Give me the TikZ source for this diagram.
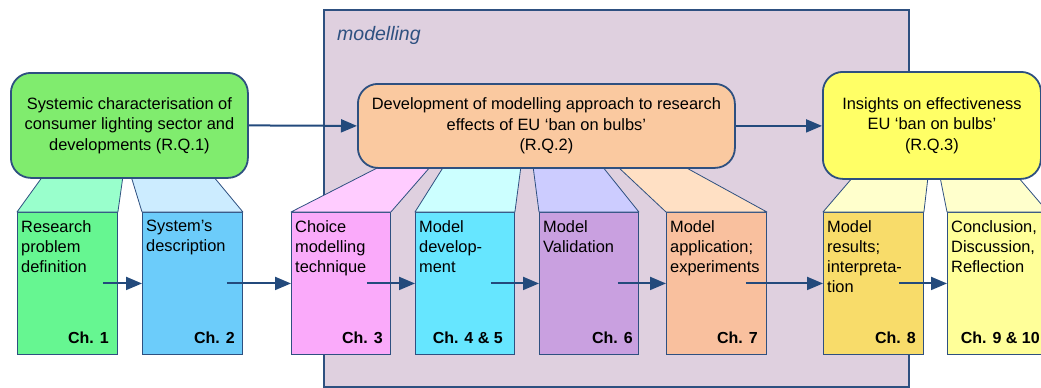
\documentclass[tikz,border=0pt]{standalone}
\usepackage{fontspec}
\setmainfont{Liberation Sans}
\usetikzlibrary{arrows.meta}

% outline and arrow colours
\definecolor{edge}{HTML}{2E5080}
\definecolor{arrowc}{HTML}{234A7C}
\definecolor{framefill}{HTML}{DFD0DF}
% research question boxes
\definecolor{rqone}{HTML}{80EC6E}
\definecolor{rqtwo}{HTML}{FAC9A0}
\definecolor{rqthree}{HTML}{FFFF66}
% chapter boxes and their connecting wedges
\definecolor{chA}{HTML}{66F691}\definecolor{wdA}{HTML}{99FFCC}
\definecolor{chB}{HTML}{6CCCFA}\definecolor{wdB}{HTML}{CCECFF}
\definecolor{chC}{HTML}{FAAAFA}\definecolor{wdC}{HTML}{FFCCFF}
\definecolor{chD}{HTML}{66E6FF}\definecolor{wdD}{HTML}{CCFFFF}
\definecolor{chE}{HTML}{C9A0E0}\definecolor{wdE}{HTML}{CCCCFF}
\definecolor{chF}{HTML}{F9C09E}\definecolor{wdF}{HTML}{FFE0C4}
\definecolor{chG}{HTML}{F8DC6A}\definecolor{wdG}{HTML}{FFFFCC}
\definecolor{chH}{HTML}{FFFF99}\definecolor{wdH}{HTML}{FFFFCC}

\begin{document}
\begin{tikzpicture}[x=1pt,y=-1pt,
  frame/.style={draw=edge, line width=1.8pt, fill=framefill, anchor=north west,
    inner sep=0pt, minimum width=585pt, minimum height=377pt},
  rqbox/.style={draw=edge, line width=1.8pt, rounded corners=20pt, anchor=north west,
    inner sep=0pt, align=center, font=\fontsize{16.4}{20.5}\selectfont},
  chbox/.style={draw=edge, line width=0.9pt, anchor=north west, inner sep=0pt,
    minimum width=100pt, minimum height=142pt},
  wedge/.style={draw=edge, line width=0.8pt, line join=round},
  desc/.style={anchor=north west, inner sep=0pt, align=left,
    font=\fontsize{16.4}{20}\selectfont},
  chlab/.style={anchor=base east, inner sep=0pt, font=\fontsize{16}{19}\selectfont\bfseries},
  flow/.style={draw=arrowc, line width=2pt, -{Triangle[length=16pt,width=13pt]}}
]
\useasboundingbox (0,0) rectangle (1041,388);

% modelling frame
\node[frame] (frame) at (323,9) {};
\node[anchor=base west, inner sep=0pt, text=edge,
  font=\fontsize{19.5}{22}\selectfont\itshape] (mlab) at (337,40) {modelling};

% chapter boxes
\node[chbox, fill=chA] (b1) at (17,212) {};
\node[chbox, fill=chB] (b2) at (142,212) {};
\node[chbox, fill=chC, minimum width=99pt] (b3) at (291,212) {};
\node[chbox, fill=chD, minimum width=99pt] (b4) at (415,212) {};
\node[chbox, fill=chE, minimum width=99pt] (b5) at (539,212) {};
\node[chbox, fill=chF] (b6) at (666,212) {};
\node[chbox, fill=chG] (b7) at (823,212) {};
\node[chbox, fill=chH] (b8) at (947,212) {};

% wedges joining the research questions to their chapters
\filldraw[wedge, fill=wdA] (43,176) -- (123,176) -- (b1.north east) -- (b1.north west) -- cycle;
\filldraw[wedge, fill=wdB] (131,176) -- (213,176) -- (b2.north east) -- (b2.north west) -- cycle;
\filldraw[wedge, fill=wdC] (381,166) -- (431,166) -- (b3.north east) -- (b3.north west) -- cycle;
\filldraw[wedge, fill=wdD] (444,166) -- (521,166) -- (b4.north east) -- (b4.north west) -- cycle;
\filldraw[wedge, fill=wdE] (533,166) -- (602,166) -- (b5.north east) -- (b5.north west) -- cycle;
\filldraw[wedge, fill=wdF] (617,166) -- (683,166) -- (b6.north east) -- (b6.north west) -- cycle;
\filldraw[wedge, fill=wdG] (853,177) -- (928,177) -- (b7.north east) -- (b7.north west) -- cycle;
\filldraw[wedge, fill=wdH] (940,177) -- (1018,177) -- (b8.north east) -- (b8.north west) -- cycle;

% research questions
\node[rqbox, fill=rqone, minimum width=237pt, minimum height=105pt] (rq1) at (10,72)
  {Systemic characterisation of\\consumer lighting sector and\\developments (R.Q.1)};
\node[rqbox, fill=rqtwo, minimum width=377pt, minimum height=84pt] (rq2) at (357,83)
  {Development of modelling approach to research\\effects of EU ‘ban on bulbs’\\(R.Q.2)};
\node[rqbox, fill=rqthree, minimum width=218pt, minimum height=107pt] (rq3) at (822,71)
  {Insights on effectiveness\\EU ‘ban on bulbs’\\(R.Q.3)};

\draw[flow] (rq1.east) -- (rq2.west);
\draw[flow] (rq2.east) -- (rq3.west |- rq2.east);

% chapter texts
\node[desc] (d1) at ([shift={(4pt,-8pt)}]b1.north west) {Research\\problem\\definition};
\node[desc] (d2) at ([shift={(4pt,-8pt)}]b2.north west) {System’s\\description};
\node[desc] (d3) at ([shift={(4pt,-8pt)}]b3.north west) {Choice\\modelling\\technique};
\node[desc] (d4) at ([shift={(4pt,-8pt)}]b4.north west) {Model\\develop-\\ment};
\node[desc] (d5) at ([shift={(4pt,-8pt)}]b5.north west) {Model\\Validation};
\node[desc] (d6) at ([shift={(4pt,-8pt)}]b6.north west) {Model\\application;\\experiments};
\node[desc] (d7) at ([shift={(4pt,-8pt)}]b7.north west) {Model\\results;\\interpreta-\\tion};
\node[desc] (d8) at ([shift={(4pt,-8pt)}]b8.north west) {Conclusion,\\Discussion,\\Reflection};

\node[chlab] (c1) at ([shift={(-9pt,11pt)}]b1.south east) {Ch. 1};
\node[chlab] (c2) at ([shift={(-8pt,11pt)}]b2.south east) {Ch. 2};
\node[chlab] (c3) at ([shift={(-8pt,11pt)}]b3.south east) {Ch. 3};
\node[chlab] (c4) at ([shift={(-12pt,11pt)}]b4.south east) {Ch. 4 \& 5};
\node[chlab] (c5) at ([shift={(-6pt,11pt)}]b5.south east) {Ch. 6};
\node[chlab] (c6) at ([shift={(-9pt,11pt)}]b6.south east) {Ch. 7};
\node[chlab] (c7) at ([shift={(-8pt,11pt)}]b7.south east) {Ch. 8};
\node[chlab] (c8) at ([shift={(-8pt,11pt)}]b8.south east) {Ch. 9 \& 10};

% chapter sequence
\draw[flow] ([xshift=-15pt]b1.east) -- (b2.west);
\draw[flow] ([xshift=-16pt]b2.east) -- (b3.west);
\draw[flow] ([xshift=-24pt]b3.east) -- (b4.west);
\draw[flow] ([xshift=-24pt]b4.east) -- (b5.west);
\draw[flow] ([xshift=-21pt]b5.east) -- (b6.west);
\draw[flow] ([xshift=-21pt]b6.east) -- (b7.west);
\draw[flow] ([xshift=-25pt]b7.east) -- (b8.west);
\end{tikzpicture}
\end{document}
